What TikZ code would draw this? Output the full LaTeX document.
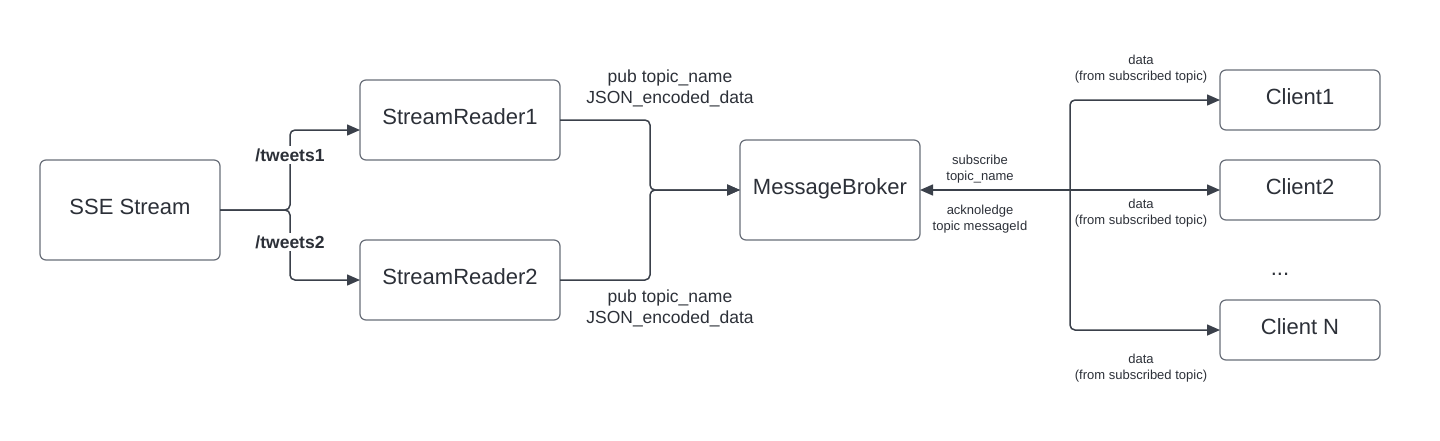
\documentclass[tikz,border=0pt]{standalone}
\usepackage{fontspec}
\setmainfont{Liberation Sans}
\usepackage{tikz}
\usetikzlibrary{positioning,arrows.meta}
\definecolor{streamline}{RGB}{58,64,74}
\definecolor{streamborder}{RGB}{104,110,120}
\definecolor{streamtext}{RGB}{44,48,56}
\tikzset{
    stream box/.style={
        rectangle,
        draw=streamborder,
        line width=1.2pt,
        rounded corners=6pt,
        fill=white,
        text=streamtext,
        font=\fontsize{22}{26}\selectfont,
        text height=16pt,
        text depth=7pt,
        inner sep=0pt,
        outer sep=0pt,
        align=center,
    },
    big box/.style={stream box, minimum width=180pt, minimum height=100pt},
    reader box/.style={stream box, minimum width=200pt, minimum height=80pt},
    client box/.style={stream box, minimum width=160pt, minimum height=60pt},
    stream link/.style={
        draw=streamline,
        line width=1.5pt,
        rounded corners=5pt,
        >={Triangle[length=13pt,width=11pt]}
    },
    pub label/.style={font=\fontsize{17.5}{21}\selectfont, text=streamtext, align=center, inner sep=1pt},
    path label/.style={font=\bfseries\fontsize{17.5}{21}\selectfont, text=streamtext, fill=white, inner sep=2pt},
    small label/.style={font=\fontsize{13}{16}\selectfont, text=streamtext, align=center, inner sep=1pt}
}
\begin{document}
\begin{tikzpicture}[x=1pt,y=-1pt]
    \useasboundingbox (0,0) rectangle (1440,440);

    %boxes
    \node[big box] (sse) at (130,210) {SSE Stream};
    \node[reader box] (sr1) at (460,120) {StreamReader1};
    \node[reader box] (sr2) at (460,280) {StreamReader2};
    \node[big box] (mb) at (830,190) {MessageBroker};
    \node[client box] (c1) at (1300,100) {Client1};
    \node[client box] (c2) at (1300,190) {Client2};
    \node[client box] (cn) at (1300,330) {Client N};
    \node[text=streamtext, font=\fontsize{22}{26}\selectfont] (cdots) at (1280,274) {...};

    \coordinate (split) at (290,210);
    \coordinate (merge) at (650,190);
    \coordinate (fan) at (1070,190);

    %sse stream to the readers
    \draw[stream link,->] (sse.east) -- (split) |- ([yshift=-10pt]sr1.west);
    \draw[stream link,->] (sse.east) -- (split) |- (sr2.west);
    \node[path label] (tw1) at (290,155) {/tweets1};
    \node[path label] (tw2) at (290,242) {/tweets2};

    %readers publish to the broker
    \draw[stream link,->] (sr1.east) -| (merge) -- (mb.west);
    \draw[stream link,->] (sr2.east) -| (merge) -- (mb.west);
    \node[pub label] (pub1) at (670,88) {pub topic\_name\\JSON\_encoded\_data};
    \node[pub label] (pub2) at (670,308) {pub topic\_name\\JSON\_encoded\_data};

    %broker and clients
    \draw[stream link,->] (fan) -- (mb.east);
    \draw[stream link,->] (fan) |- (c1.west);
    \draw[stream link,->] (fan) -- (c2.west);
    \draw[stream link,->] (fan) |- (cn.west);
    \node[small label] (sub) at (980,169) {subscribe\\topic\_name};
    \node[small label] (ack) at (980,219) {acknoledge\\topic messageId};

    \node[small label] (data1) at (1141,69) {data\\(from subscribed topic)};
    \node[small label] (data2) at (1141,213) {data\\(from subscribed topic)};
    \node[small label] (datan) at (1141,368) {data\\(from subscribed topic)};
\end{tikzpicture}
\end{document}
